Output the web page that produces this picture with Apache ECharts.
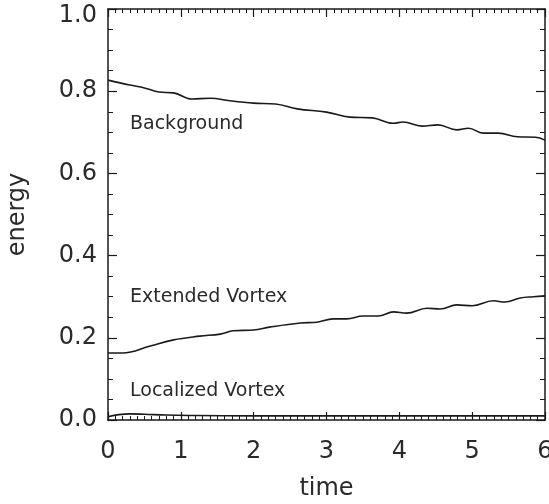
<!DOCTYPE html>
<html>
<head>
<meta charset="utf-8">
<title>energy vs time</title>
<style>
  html, body { margin: 0; padding: 0; background: #fff; }
  #main { width: 549px; height: 504px; }
</style>
<script src="https://cdn.jsdelivr.net/npm/echarts@6/dist/echarts.min.js"></script>
</head>
<body>
<div id="main"></div>
<script>
// background energy
var bgTime = [0, 0.3, 0.5, 0.7, 0.9, 1.15, 1.4, 1.7, 2.0, 2.3, 2.6, 3.0, 3.32, 3.63, 3.92, 4.05, 4.31, 4.53, 4.79, 4.95, 5.15, 5.36, 5.62, 5.87, 6.0];
var bgEnergy = [0.827, 0.815, 0.808, 0.798, 0.796, 0.781, 0.783, 0.776, 0.771, 0.769, 0.757, 0.749, 0.737, 0.735, 0.722, 0.725, 0.715, 0.718, 0.706, 0.710, 0.698, 0.698, 0.689, 0.688, 0.681];
// extended vortex
var extTime = [0, 0.2, 0.58, 0.9, 1.26, 1.54, 1.72, 2.0, 2.22, 2.64, 2.87, 3.09, 3.28, 3.5, 3.71, 3.92, 4.1, 4.38, 4.56, 4.79, 5.0, 5.29, 5.45, 5.66, 5.84, 6.0];
var extEnergy = [0.163, 0.163, 0.180, 0.195, 0.204, 0.209, 0.217, 0.219, 0.226, 0.236, 0.238, 0.246, 0.246, 0.253, 0.253, 0.263, 0.260, 0.272, 0.270, 0.280, 0.278, 0.290, 0.287, 0.297, 0.300, 0.302];
// localized vortex
var locTime = [0, 0.15, 0.3, 0.5, 0.8, 1.2, 2, 3, 4, 5, 6];
var locEnergy = [0.008, 0.013, 0.015, 0.014, 0.012, 0.011, 0.010, 0.010, 0.010, 0.010, 0.010];

function pairs(t, v) {
  return t.map(function (x, i) { return [x, v[i]]; });
}

var font = 'DejaVu Sans, sans-serif';
var ink = '#1a1a1a';
var txt = '#2a2a2a';

function xAx(pos, show) {
  return {
    type: 'value', position: pos, min: 0, max: 6, interval: 1,
    axisLine: { show: true, onZero: false, lineStyle: { color: ink, width: 1.5 } },
    axisTick: { show: true, inside: true, length: 8, lineStyle: { color: ink, width: 1.2 } },
    minorTick: { show: true, splitNumber: 10, length: 4, lineStyle: { color: ink, width: 1 } },
    splitLine: { show: false },
    axisLabel: { show: show, margin: 20, fontSize: 24, color: txt, fontFamily: font },
    name: show ? 'time' : '', nameLocation: 'middle', nameGap: 57,
    nameTextStyle: { fontSize: 24, color: txt, fontFamily: font }
  };
}

function yAx(pos, show) {
  return {
    type: 'value', position: pos, min: 0, max: 1, interval: 0.2,
    axisLine: { show: true, onZero: false, lineStyle: { color: ink, width: 1.5 } },
    axisTick: { show: true, inside: true, length: 9, lineStyle: { color: ink, width: 1.2 } },
    minorTick: { show: true, splitNumber: 4, length: 5, lineStyle: { color: ink, width: 1 } },
    splitLine: { show: false },
    axisLabel: { show: show, margin: 11, fontSize: 24, color: txt, fontFamily: font,
      formatter: function (v) { return v === 1 ? '{top|1.0}' : v.toFixed(1); },
      rich: { top: { fontSize: 24, color: txt, fontFamily: font, padding: [14, 0, 0, 0] } } },
    name: show ? 'energy' : '', nameLocation: 'middle', nameGap: 78,
    nameTextStyle: { fontSize: 24, color: txt, fontFamily: font }
  };
}

function line(name, data) {
  return {
    name: name, type: 'line', data: data, smooth: 0.4, symbol: 'none',
    xAxisIndex: 0, yAxisIndex: 0,
    lineStyle: { color: ink, width: 1.6 }
  };
}

var chart = echarts.init(document.getElementById('main'));
chart.setOption({
  animation: false,
  backgroundColor: '#fff',
  grid: { left: 108, right: 4, top: 9, bottom: 84, outerBoundsMode: 'none', containLabel: false },
  xAxis: [xAx('bottom', true), xAx('top', false)],
  yAxis: [yAx('left', true), yAx('right', false)],
  series: [
    line('Background', pairs(bgTime, bgEnergy)),
    line('Extended Vortex', pairs(extTime, extEnergy)),
    line('Localized Vortex', pairs(locTime, locEnergy))
  ],
  graphic: [
    { type: 'text', left: 130, top: 115, style: { text: 'Background', fontSize: 19, fill: txt, fontFamily: font } },
    { type: 'text', left: 130, top: 288, style: { text: 'Extended Vortex', fontSize: 19, fill: txt, fontFamily: font } },
    { type: 'text', left: 130, top: 382, style: { text: 'Localized Vortex', fontSize: 19, fill: txt, fontFamily: font } }
  ]
});
</script>
</body>
</html>
